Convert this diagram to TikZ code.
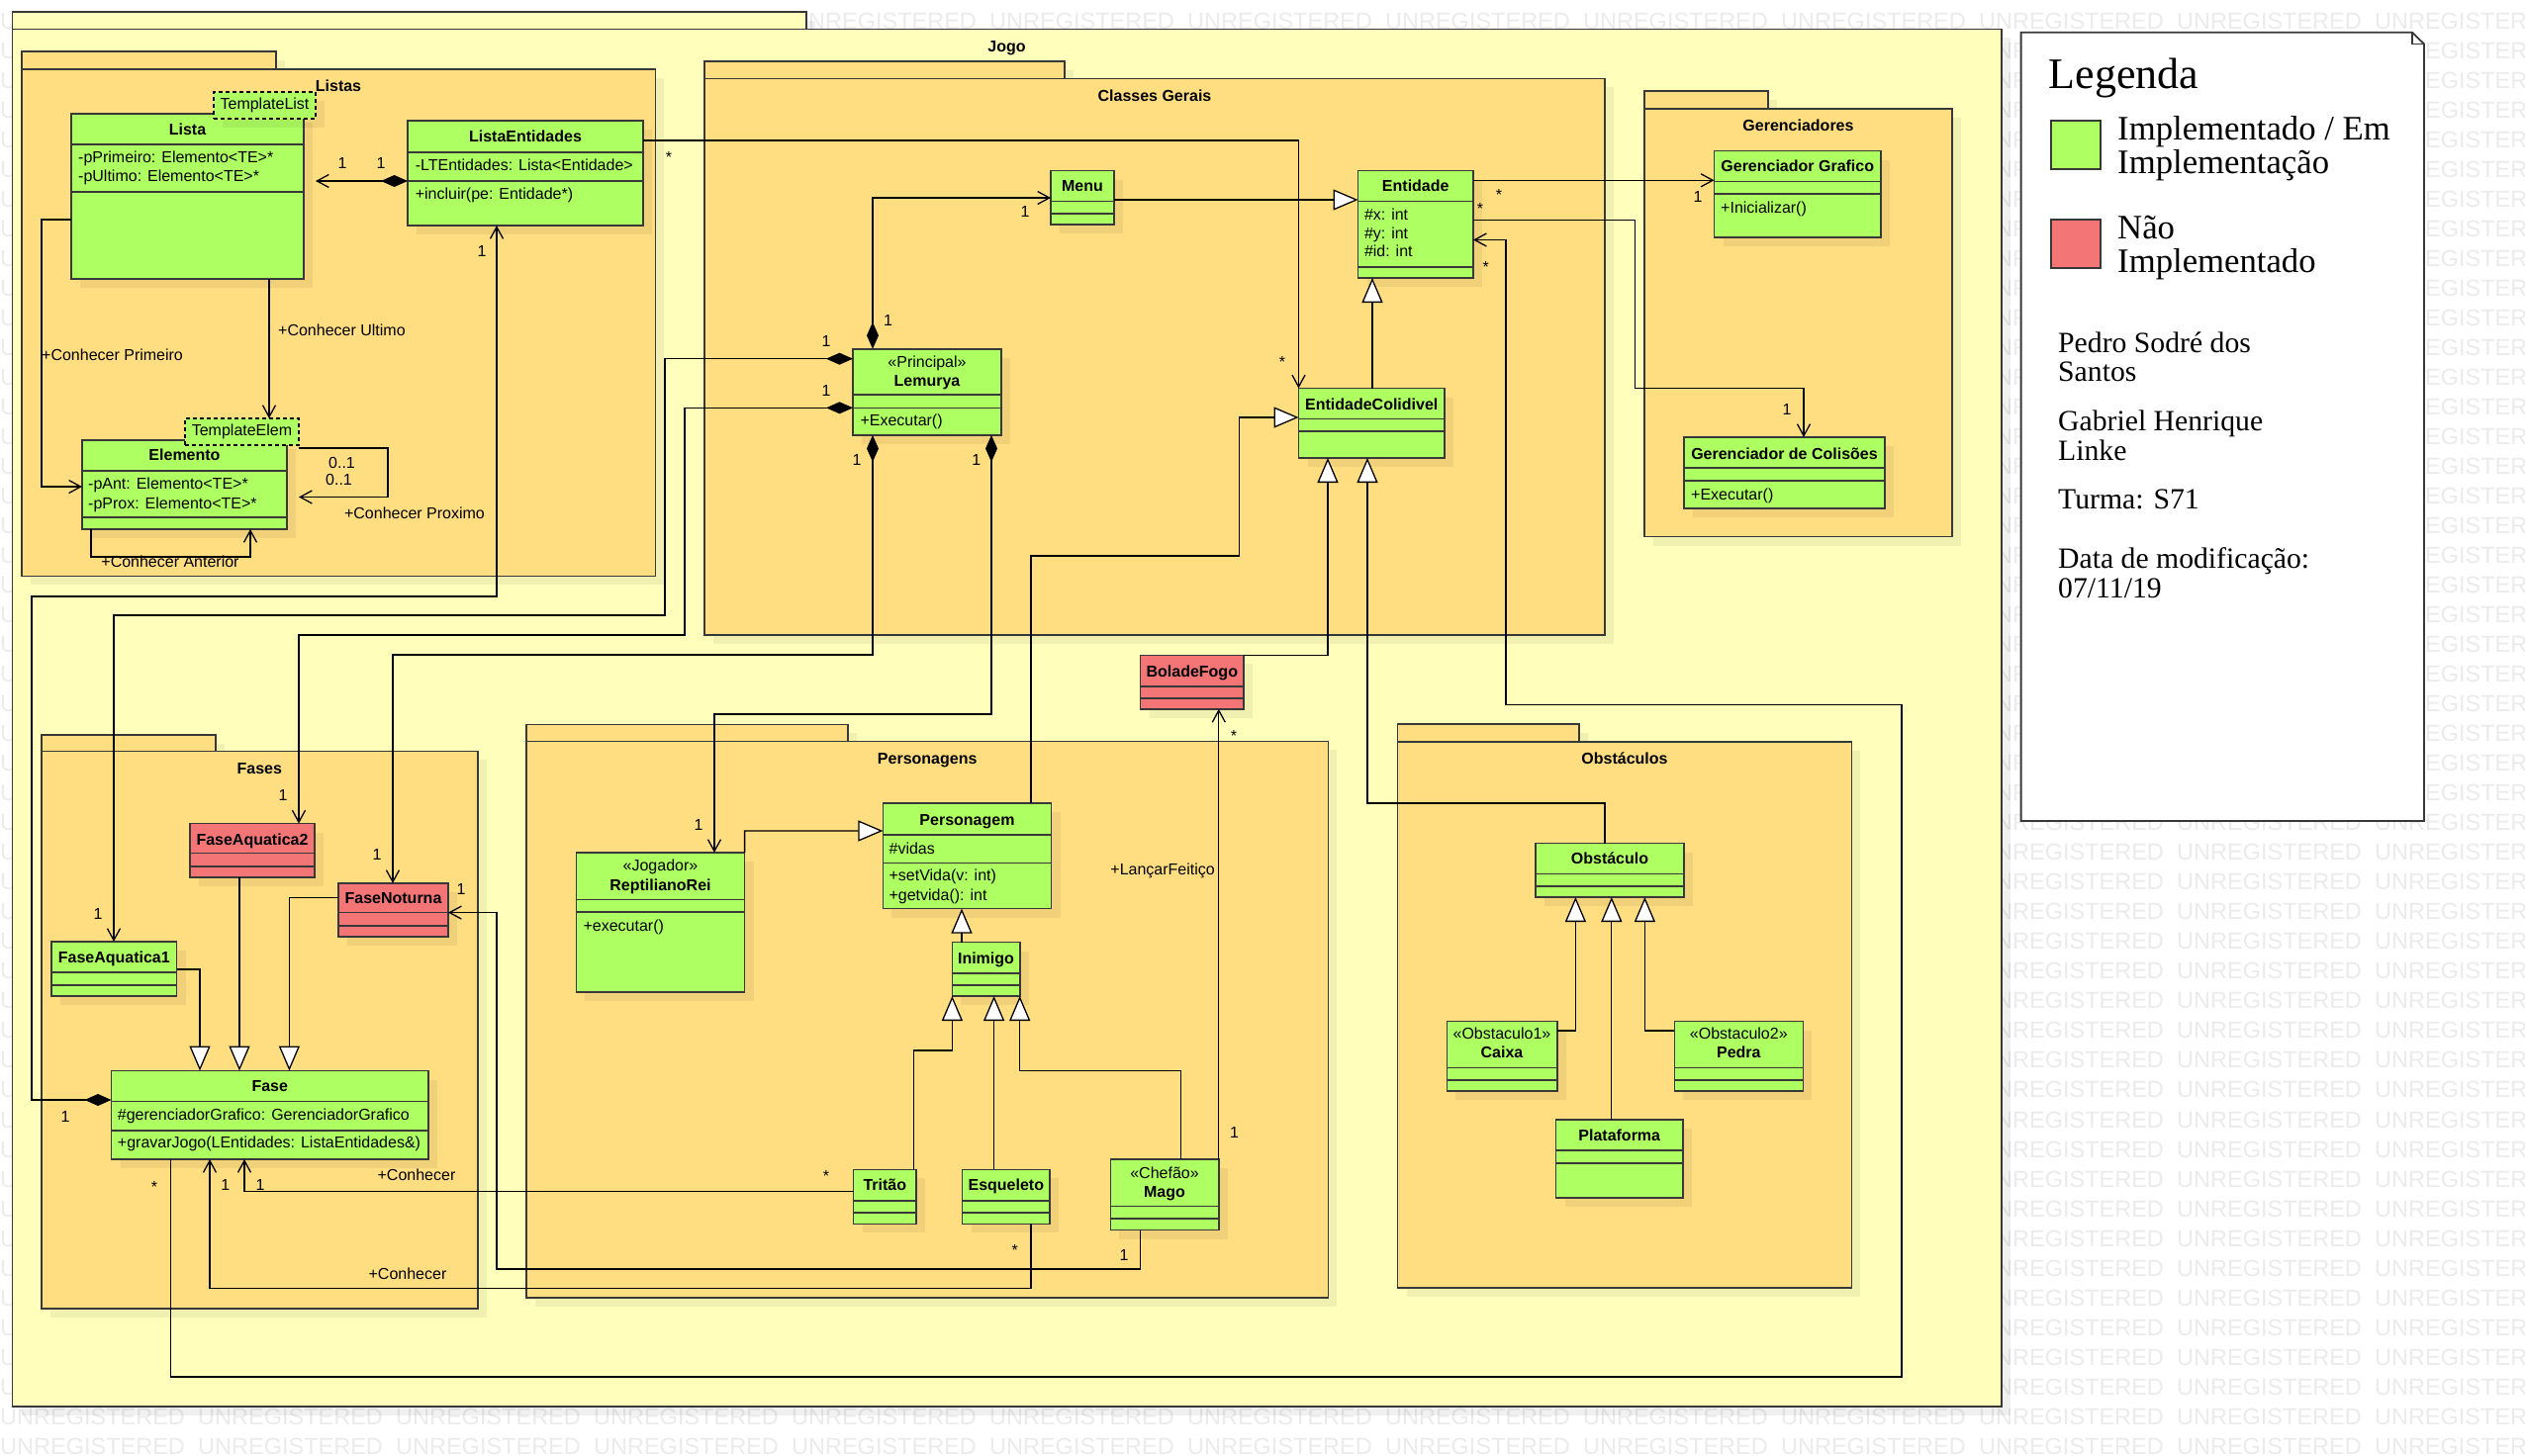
\documentclass[tikz,border=0pt]{standalone}
\usepackage{fontspec}
\setmainfont{Liberation Serif}
\newfontfamily\umlsans{Liberation Sans}
\usetikzlibrary{arrows.meta}

\definecolor{jogoc}{HTML}{FFFFBB}
\definecolor{pkgc}{HTML}{FFDD81}
\definecolor{okc}{HTML}{AEFF62}
\definecolor{noc}{HTML}{F37575}
\definecolor{edgec}{HTML}{383838}
\definecolor{wmc}{HTML}{EBEBEB}

\newcommand\umlfont{\umlsans\fontsize{16}{19}\selectfont}
\newcommand\wmw{\makebox[200pt][l]{UNREGISTERED}}

\tikzset{
  barb/.tip={Straight Barb[length=12pt,width=13pt]},
  tri/.tip={Triangle[length=25pt,width=21pt,fill=white]},
  dmd/.tip={Diamond[length=27pt,width=12pt]},
}

% class box: name, x1, y1, x2, y2, fill, divider ys
\newcommand\umlbox[7]{%
  \fill[dropsh] ({#2+9},{#3+9}) rectangle ({#4+9},{#5+9});
  \node[cbox, fill=#6, minimum width={(#4)-(#2)}, minimum height={(#5)-(#3)}, anchor=north west] (#1) at (#2,#3) {};
  \foreach \d in {#7} {\draw[cedge] (#2,\d) -- (#4,\d);}
}
% package: name, x1, tab top, tab right, body top, x2, y2, fill
\newcommand\umlpkg[8]{%
  \fill[dropsh] ({#2+9},{#3+9}) rectangle ({#4+9},{#5+9});
  \fill[dropsh] ({#2+9},{#5+9}) rectangle ({#6+9},{#7+9});
  \draw[pedge, fill=#8] (#2,#3) rectangle (#4,#5);
  \node[pbox, fill=#8, minimum width={(#6)-(#2)}, minimum height={(#7)-(#5)}, anchor=north west] (#1) at (#2,#5) {};
}

\begin{document}
\begin{tikzpicture}[x=1pt, y=-1pt,
  dropsh/.style={fill=black, fill opacity=0.06},
  cbox/.style={draw=edgec, line width=1.6pt, inner sep=0pt, outer sep=0pt},
  cedge/.style={draw=edgec, line width=1.6pt},
  pbox/.style={draw=edgec, line width=1.8pt, inner sep=0pt, outer sep=0pt},
  pedge/.style={draw=edgec, line width=1.8pt},
  tmpl/.style={draw=black, dash pattern=on 4pt off 3pt, line width=1.3pt, fill=okc, font=\umlfont, inner sep=0pt, outer sep=0pt},
  conn/.style={draw=black, line width=1.3pt, line join=miter},
  clsname/.style={font=\umlfont\bfseries, inner sep=0pt, anchor=base, yshift=-5.7pt},
  clsst/.style={font=\umlfont, inner sep=0pt, anchor=base, yshift=-5.7pt},
  clsattr/.style={font=\umlfont, inner sep=0pt, anchor=base west, yshift=-5.7pt},
  mult/.style={font=\umlfont, inner sep=0pt, anchor=base, yshift=-5.7pt},
  multstar/.style={font=\umlfont, inner sep=0pt, anchor=base, yshift=-9.3pt},
  rolew/.style={font=\umlfont, inner sep=0pt, anchor=base west, yshift=-5.7pt},
  rolee/.style={font=\umlfont, inner sep=0pt, anchor=base east, yshift=-5.7pt},
  wmark/.style={font=\umlsans\fontsize{23.5}{28}\selectfont, text=wmc, inner sep=0pt, anchor=base west, yshift=-8.4pt},
  legtitle/.style={font=\fontsize{44}{50}\selectfont, inner sep=0pt, anchor=base west},
  legkey/.style={font=\fontsize{34.7}{40}\selectfont, inner sep=0pt, anchor=base west},
  legname/.style={font=\fontsize{29.7}{35}\selectfont, inner sep=0pt, anchor=base west},
  keybox/.style={draw=edgec, line width=1.5pt, minimum width=50pt, minimum height=49pt, anchor=north west, inner sep=0pt, outer sep=0pt},
]
\useasboundingbox (0,0) rectangle (2552,1472);
\fill[white] (0,0) rectangle (2552,1472);

% background watermark, only where it is not covered by the frames
\foreach \k in {0,...,46} {
  \node[wmark] (wmL\k) at (0,{21+30.016*\k}) {U};
}
\node[wmark] (wmT) at (800,21) {\wmw\wmw\wmw\wmw\wmw\wmw\wmw\wmw UNREGISTER};
\foreach \k in {1,...,26} {
  \node[wmark] (wmG\k) at (2000,{21+30.016*\k}) {UNR};
  \node[wmark] (wmR\k) at (2450.9,{21+30.016*\k}) {EGISTER};
}
\foreach \k in {27,...,46} {
  \node[wmark] (wmR\k) at (2000,{21+30.016*\k}) {\wmw\wmw UNREGISTER};
}
\foreach \k in {47,48} {
  \node[wmark] (wmB\k) at (0,{21+30.016*\k}) {\wmw\wmw\wmw\wmw\wmw\wmw\wmw\wmw\wmw\wmw\wmw\wmw UNREGISTER};
}

% ---------- packages ----------
\umlpkg{jogo}{12.5}{12}{815}{29.5}{2022.6}{1422}{jogoc}
\umlpkg{listas}{22}{52}{279}{70}{662.4}{582.4}{pkgc}
\umlpkg{gerais}{712}{62}{1076}{79.5}{1622}{642.3}{pkgc}
\umlpkg{gerenc}{1662}{92}{1787}{109.7}{1973}{542.5}{pkgc}
\umlpkg{fases}{42}{742.6}{218}{759.4}{482.6}{1322.7}{pkgc}
\umlpkg{persg}{532}{732.4}{856.6}{749.4}{1342.4}{1312}{pkgc}
\umlpkg{obstg}{1412.5}{732.3}{1596}{749.8}{1871.4}{1302}{pkgc}

\node[clsname] (jogo-t) at (1017.5,47) {Jogo};
\node[clsname] (listas-t) at (342,87) {Listas};
\node[clsname] (gerais-t) at (1167,97) {Classes Gerais};
\node[clsname] (gerenc-t) at (1817.5,127) {Gerenciadores};
\node[clsname] (fases-t) at (262.3,777) {Fases};
\node[clsname] (persg-t) at (937.2,767) {Personagens};
\node[clsname] (obstg-t) at (1642,766.8) {Obstáculos};

% ---------- classes ----------
\umlbox{lista}{72}{115}{307}{282}{okc}{146,194}
\fill[dropsh] (225,102) rectangle (328,129);
\node[tmpl, minimum width=103pt, minimum height=27pt, anchor=north west] (tl) at (216,93) {TemplateList};
\umlbox{le}{412}{122}{650}{228}{okc}{154,183}
\umlbox{elem}{83}{445}{290}{535}{okc}{476,523}
\node[tmpl, minimum width=115pt, minimum height=27pt, anchor=north west] (te) at (187,423) {TemplateElem};
\umlbox{menu}{1062}{172.5}{1126}{227}{okc}{203.5,215.7}
\umlbox{ent}{1372.5}{172.5}{1489}{281}{okc}{203.5,270}
\umlbox{lem}{862}{352.7}{1012}{440}{okc}{399,412.3}
\umlbox{ec}{1312.5}{392.5}{1460}{463}{okc}{423.5,436}
\umlbox{gg}{1732.5}{152.6}{1901}{240}{okc}{183.6,196}
\umlbox{gc}{1702}{442}{1905}{514}{okc}{473,486}
\umlbox{fa2}{192}{832.6}{318}{887}{noc}{862.4,876}
\umlbox{fn}{342}{893}{453}{947}{noc}{922.6,936}
\umlbox{fa1}{52}{952}{178.6}{1007}{okc}{982.8,996}
\umlbox{fase}{112.5}{1082.5}{433}{1172}{okc}{1113.4,1142.7}
\umlbox{rr}{582.3}{862}{752.6}{1003}{okc}{909.6,922}
\umlbox{pers}{892.4}{812}{1062.6}{918.6}{okc}{844,872.6}
\umlbox{ini}{962.4}{952.5}{1030.7}{1007}{okc}{983.75,995.8}
\umlbox{trit}{862.6}{1182.4}{926}{1237.3}{okc}{1213.7,1225.7}
\umlbox{esq}{972.6}{1182.4}{1061}{1237.3}{okc}{1213.7,1225.7}
\umlbox{mago}{1122.3}{1172}{1231.8}{1243.6}{okc}{1219.5,1232}
\umlbox{bola}{1152.6}{662.3}{1257}{716.8}{noc}{694,706}
\umlbox{obst}{1552}{852.6}{1702}{907}{okc}{883.4,895.8}
\umlbox{caixa}{1462.3}{1032.6}{1574}{1102.9}{okc}{1079.4,1091.8}
\umlbox{pedra}{1692.3}{1032.6}{1822.4}{1102.9}{okc}{1079.4,1091.8}
\umlbox{plat}{1572.5}{1132}{1701}{1211}{okc}{1163,1176}

% ---------- connectors ----------
% Listas
\draw[conn, dmd-barb] (le.west |- 0,183) -- (tl.east |- 0,183);
\draw[conn, -barb] (272,0 |- lista.south) -- (272,0 |- te.north);
\draw[conn, -barb] (lista.west |- 0,222) -- (42,222) -- (42,492) -- (elem.west |- 0,492);
\draw[conn, -barb] (te.east |- 0,453) -- (392,453) -- (392,502.5) -- (te.east |- 0,502.5);
\draw[conn, -barb] (92,0 |- elem.south) -- (92,563) -- (253,563) -- (253,0 |- elem.south);
\draw[conn, -barb] (le.east |- 0,142) -- (1312.5,142) -- (ec.north west);
\draw[conn, dmd-barb] (fase.west |- 0,1112) -- (32,1112) -- (32,603) -- (502,603) -- (502,0 |- le.south);
% Lemurya compositions
\draw[conn, dmd-barb] (lem.west |- 0,362.7) -- (672,362.7) -- (672,622) -- (115,622) -- (115,0 |- fa1.north);
\draw[conn, dmd-barb] (lem.west |- 0,412.3) -- (692,412.3) -- (692,642) -- (302,642) -- (302,0 |- fa2.north);
\draw[conn, dmd-barb] (882,0 |- lem.north) -- (882,200) -- (menu.west |- 0,200);
\draw[conn, dmd-barb] (882,0 |- lem.south) -- (882,662) -- (397,662) -- (397,0 |- fn.north);
\draw[conn, dmd-barb] (1002,0 |- lem.south) -- (1002,722) -- (722,722) -- (722,0 |- rr.north);
% generalizations towards Entidade / EntidadeColidivel
\draw[conn, -tri] (menu.east |- 0,202) -- (ent.west |- 0,202);
\draw[conn, -tri] (1387,0 |- ec.north) -- (1387,0 |- ent.south);
\draw[conn, -tri] (1042,0 |- pers.north) -- (1042,562) -- (1252.5,562) -- (1252.5,422) -- (ec.west |- 0,422);
\draw[conn, -tri] (bola.north east) -- (1342,662.3) -- (1342,0 |- ec.south);
\draw[conn, -tri] (1622,0 |- obst.north) -- (1622,812) -- (1382,812) -- (1382,0 |- ec.south);
% managers
\draw[conn, -barb] (ent.east |- 0,182.3) -- (gg.west |- 0,182.3);
\draw[conn, -barb] (ent.east |- 0,222.5) -- (1652.5,222.5) -- (1652.5,392.5) -- (1823,392.5) -- (1823,0 |- gc.north);
\draw[conn, -barb] (172.3,0 |- fase.south) -- (172.3,1392) -- (1922,1392) -- (1922,712.6) -- (1522,712.6) -- (1522,242.5) -- (ent.east |- 0,242.5);
% Personagens
\draw[conn, -tri] (rr.north east) -- (752.6,840) -- (pers.west |- 0,840);
\draw[conn, -tri] (972,0 |- ini.north) -- (972,0 |- pers.south);
\draw[conn, -tri] (923.3,0 |- trit.north) -- (923.3,1062) -- (962.4,1062) -- (962.4,0 |- ini.south);
\draw[conn, -tri] (1004.6,0 |- esq.north) -- (1004.6,0 |- ini.south);
\draw[conn, -tri] (1193.3,0 |- mago.north) -- (1193.3,1082.4) -- (1030.7,1082.4) -- (1030.7,0 |- ini.south);
\draw[conn, -barb] (mago.north east) -- (mago.north east |- bola.south);
\draw[conn, -barb] (1152.6,0 |- mago.south) -- (1152.6,1283) -- (502,1283) -- (502,922.6) -- (fn.east |- 0,922.6);
\draw[conn, -barb] (trit.west |- 0,1204.7) -- (247,1204.7) -- (247,0 |- fase.south);
\draw[conn, -barb] (1042,0 |- esq.south) -- (1042,1302.6) -- (212,1302.6) -- (212,0 |- fase.south);
% Fases
\draw[conn, -tri] (fa1.east |- 0,980) -- (202,980) -- (202,0 |- fase.north);
\draw[conn, -tri] (242,0 |- fa2.south) -- (242,0 |- fase.north);
\draw[conn, -tri] (fn.west |- 0,907.4) -- (292.4,907.4) -- (292.4,0 |- fase.north);
% Obstaculos
\draw[conn, -tri] (caixa.east |- 0,1042) -- (1592.4,1042) -- (1592.4,0 |- obst.south);
\draw[conn, -tri] (1628.8,0 |- plat.north) -- (1628.8,0 |- obst.south);
\draw[conn, -tri] (pedra.west |- 0,1042) -- (1662.4,1042) -- (1662.4,0 |- obst.south);

% ---------- class texts ----------
\node[clsname] (lista-n) at (189.5,130.6) {Lista};
\node[clsattr] (lista-a1) at (79,159) {-pPrimeiro: Elemento<TE>*};
\node[clsattr] (lista-a2) at (79,178) {-pUltimo: Elemento<TE>*};
\node[clsname] (le-n) at (531,137.8) {ListaEntidades};
\node[clsattr] (le-a1) at (419.6,167) {-LTEntidades: Lista<Entidade>};
\node[clsattr] (le-o1) at (419.6,195.6) {+incluir(pe: Entidade*)};
\node[clsname] (elem-n) at (186.5,460) {Elemento};
\node[clsattr] (elem-a1) at (89,489) {-pAnt: Elemento<TE>*};
\node[clsattr] (elem-a2) at (89,509) {-pProx: Elemento<TE>*};
\node[clsname] (menu-n) at (1094,187.8) {Menu};
\node[clsname] (ent-n) at (1430.75,187.8) {Entidade};
\node[clsattr] (ent-a1) at (1378.8,217) {\#x: int};
\node[clsattr] (ent-a2) at (1378.8,235.6) {\#y: int};
\node[clsattr] (ent-a3) at (1378.8,254) {\#id: int};
\node[clsst] (lem-s) at (937,366) {«Principal»};
\node[clsname] (lem-n) at (937,384.5) {Lemurya};
\node[clsattr] (lem-o1) at (869.3,425) {+Executar()};
\node[clsname] (ec-n) at (1386.25,408.6) {EntidadeColidivel};
\node[clsname] (gg-n) at (1816.75,168) {Gerenciador Grafico};
\node[clsattr] (gg-o1) at (1739,209.6) {+Inicializar()};
\node[clsname] (gc-n) at (1803.5,458.7) {Gerenciador de Colisões};
\node[clsattr] (gc-o1) at (1709,500) {+Executar()};
\node[clsname] (fa2-n) at (255,848.3) {FaseAquatica2};
\node[clsname] (fn-n) at (397.5,908) {FaseNoturna};
\node[clsname] (fa1-n) at (115.3,968) {FaseAquatica1};
\node[clsname] (fase-n) at (272.75,1098) {Fase};
\node[clsattr] (fase-a1) at (118.75,1127) {\#gerenciadorGrafico: GerenciadorGrafico};
\node[clsattr] (fase-o1) at (118.75,1154.6) {+gravarJogo(LEntidades: ListaEntidades\&)};
\node[clsst] (rr-s) at (667.5,875) {«Jogador»};
\node[clsname] (rr-n) at (667.5,894.5) {ReptilianoRei};
\node[clsattr] (rr-o1) at (589.4,935.5) {+executar()};
\node[clsname] (pers-n) at (977.5,828.4) {Personagem};
\node[clsattr] (pers-a1) at (898.4,857.4) {\#vidas};
\node[clsattr] (pers-o1) at (898.4,885) {+setVida(v: int)};
\node[clsattr] (pers-o2) at (898.4,904.7) {+getvida(): int};
\node[clsname] (ini-n) at (996.5,968.6) {Inimigo};
\node[clsname] (trit-n) at (894.3,1198) {Tritão};
\node[clsname] (esq-n) at (1016.8,1198) {Esqueleto};
\node[clsst] (mago-s) at (1177,1185.5) {«Chefão»};
\node[clsname] (mago-n) at (1177,1204.7) {Mago};
\node[clsname] (bola-n) at (1204.8,678.4) {BoladeFogo};
\node[clsname] (obst-n) at (1627,867.8) {Obstáculo};
\node[clsst] (caixa-s) at (1518,1045) {«Obstaculo1»};
\node[clsname] (caixa-n) at (1518,1063.8) {Caixa};
\node[clsst] (pedra-s) at (1757.3,1045) {«Obstaculo2»};
\node[clsname] (pedra-n) at (1757.3,1063.8) {Pedra};
\node[clsname] (plat-n) at (1636.75,1147.9) {Plataforma};

% ---------- roles and multiplicities ----------
\node[rolew] (r-ult) at (281,334) {+Conhecer Ultimo};
\node[rolew] (r-pri) at (42,359) {+Conhecer Primeiro};
\node[rolew] (r-p1) at (332,468) {0..1};
\node[rolew] (r-p2) at (329,485) {0..1};
\node[mult] (r-prox) at (419,519) {+Conhecer Proximo};
\node[mult] (r-ant) at (172,568) {+Conhecer Anterior};
\node[mult] (r-con1) at (421,1188) {+Conhecer};
\node[mult] (r-con2) at (412,1288) {+Conhecer};
\node[rolee] (r-lanc) at (1228,878.8) {+LançarFeitiço};

\node[mult] (m1) at (346,165) {1};
\node[mult] (m2) at (385,165) {1};
\node[multstar] (m3) at (676,155) {*};
\node[multstar] (m4) at (1296,362) {*};
\node[mult] (m5) at (487,254) {1};
\node[mult] (m6) at (66,1129) {1};
\node[mult] (m7) at (835,345) {1};
\node[mult] (m8) at (99,924) {1};
\node[mult] (m9) at (835,395) {1};
\node[mult] (m10) at (286,804) {1};
\node[mult] (m11) at (897.5,324) {1};
\node[mult] (m12) at (1036,214) {1};
\node[mult] (m13) at (866,465) {1};
\node[mult] (m14) at (381,864) {1};
\node[mult] (m15) at (986.7,465) {1};
\node[mult] (m16) at (706,834) {1};
\node[multstar] (m17) at (1515,193) {*};
\node[mult] (m18) at (1716,199) {1};
\node[multstar] (m19) at (1496,206.7) {*};
\node[mult] (m20) at (1806,413.6) {1};
\node[multstar] (m21) at (156,1196) {*};
\node[multstar] (m22) at (1501.7,265.7) {*};
\node[multstar] (m23) at (1247,740.4) {*};
\node[mult] (m24) at (1247.5,1144.5) {1};
\node[mult] (m25) at (1136,1268.6) {1};
\node[mult] (m26) at (466,898.7) {1};
\node[multstar] (m27) at (835,1185.5) {*};
\node[mult] (m28) at (263,1198) {1};
\node[multstar] (m29) at (1025.8,1260.5) {*};
\node[mult] (m30) at (227.7,1198) {1};

% ---------- legend ----------
\draw[draw=edgec, line width=1.8pt, fill=white] (2042.6,32.7) -- (2438,32.7) -- (2450,44.5) -- (2450,830) -- (2042.6,830) -- cycle;
\draw[draw=edgec, line width=1.5pt] (2438,32.7) -- (2438,44.5) -- (2450,44.5);
\node[legtitle] (leg-t) at (2070.6,89.3) {Legenda};
\node[keybox, fill=okc] (key-ok) at (2073,122) {};
\node[keybox, fill=noc] (key-no) at (2073,222) {};
\node[legkey] (leg-k1) at (2140,141.5) {Implementado / Em};
\node[legkey] (leg-k2) at (2140,175) {Implementação};
\node[legkey] (leg-k3) at (2140,241) {Não};
\node[legkey] (leg-k4) at (2140,275) {Implementado};
\node[legname] (leg-n1) at (2080,356) {Pedro Sodré dos};
\node[legname] (leg-n2) at (2080,385) {Santos};
\node[legname] (leg-n3) at (2080,435) {Gabriel Henrique};
\node[legname] (leg-n4) at (2080,465) {Linke};
\node[legname] (leg-n5) at (2080,514.5) {Turma: S71};
\node[legname] (leg-n6) at (2080,574.5) {Data de modificação:};
\node[legname] (leg-n7) at (2080,604) {07/11/19};
\end{tikzpicture}
\end{document}
